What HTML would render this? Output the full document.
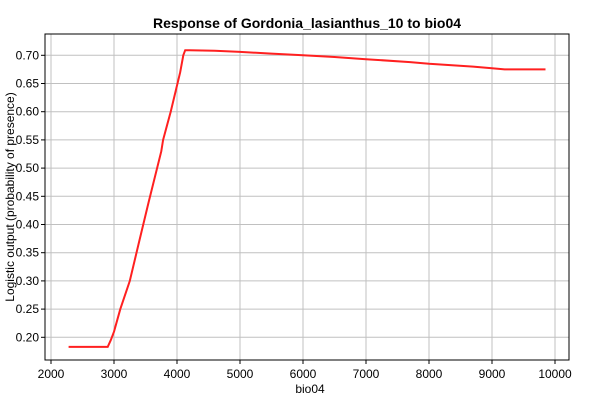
<!DOCTYPE html>
<html><head><meta charset="utf-8"><style>
body{margin:0;background:#fff;font-family:"Liberation Sans",sans-serif;}
</style></head><body>
<svg width="600" height="400">
<text x="307" y="28" text-anchor="middle" font-size="14" font-weight="bold">Response of Gordonia_lasianthus_10 to bio04</text>
<g id="grid"></g>
<g id="xt"></g>
<g id="yt"></g>
<path id="line" fill="none" stroke="#ff2020" stroke-width="2"/>
<rect x="45" y="34" width="524" height="326" fill="none" stroke="#000" stroke-width="1"/>
<text x="310" y="393" text-anchor="middle" font-size="12">bio04</text>
<text transform="translate(14,197) rotate(-90)" text-anchor="middle" font-size="12">Logistic output (probability of presence)</text>
</svg>
<script>
const xTicks=[2000,3000,4000,5000,6000,7000,8000,9000,10000];
const yTicks=[0.20,0.25,0.30,0.35,0.40,0.45,0.50,0.55,0.60,0.65,0.70];
const xs=[2280,2900,2950,3000,3100,3250,3400,3550,3750,3780,3900,4050,4100,4130,4200,4600,5000,5500,6000,6500,7000,7700,8000,8700,9000,9200,9850];
const ys=[0.183,0.183,0.195,0.21,0.25,0.30,0.37,0.44,0.53,0.55,0.60,0.67,0.70,0.709,0.709,0.708,0.706,0.703,0.700,0.697,0.693,0.688,0.685,0.680,0.677,0.675,0.675];
const X=v=>51+(v-2000)*0.063;
const Y=v=>337.3-(v-0.2)*564;
const ns="http://www.w3.org/2000/svg";
const grid=document.getElementById('grid'),xt=document.getElementById('xt'),yt=document.getElementById('yt');
function mk(tag,attrs,parent,txt){const e=document.createElementNS(ns,tag);for(const k in attrs)e.setAttribute(k,attrs[k]);if(txt!==undefined)e.textContent=txt;parent.appendChild(e);return e;}
xTicks.forEach(t=>{const x=X(t);
const g=mk('line',{x1:x,x2:x,y1:34,y2:360,stroke:'#c0c0c0'},grid);


mk('line',{x1:x,x2:x,y1:360,y2:364,stroke:'#000'},xt);
const l=mk('text',{x:x,y:378,'text-anchor':'middle','font-size':'12'},xt,String(t));

});
yTicks.forEach(t=>{const y=Y(t);
const g=mk('line',{x1:45,x2:569,y1:y,y2:y,stroke:'#c0c0c0'},grid);


mk('line',{x1:41,x2:45,y1:y,y2:y,stroke:'#000'},yt);
const l=mk('text',{x:39,y:y+4,'text-anchor':'end','font-size':'12'},yt,t.toFixed(2));

});
document.getElementById('line').setAttribute('d',xs.map((v,i)=>(i?'L':'M')+X(v).toFixed(1)+' '+Y(ys[i]).toFixed(1)).join(' '));
</script>
</body></html>
